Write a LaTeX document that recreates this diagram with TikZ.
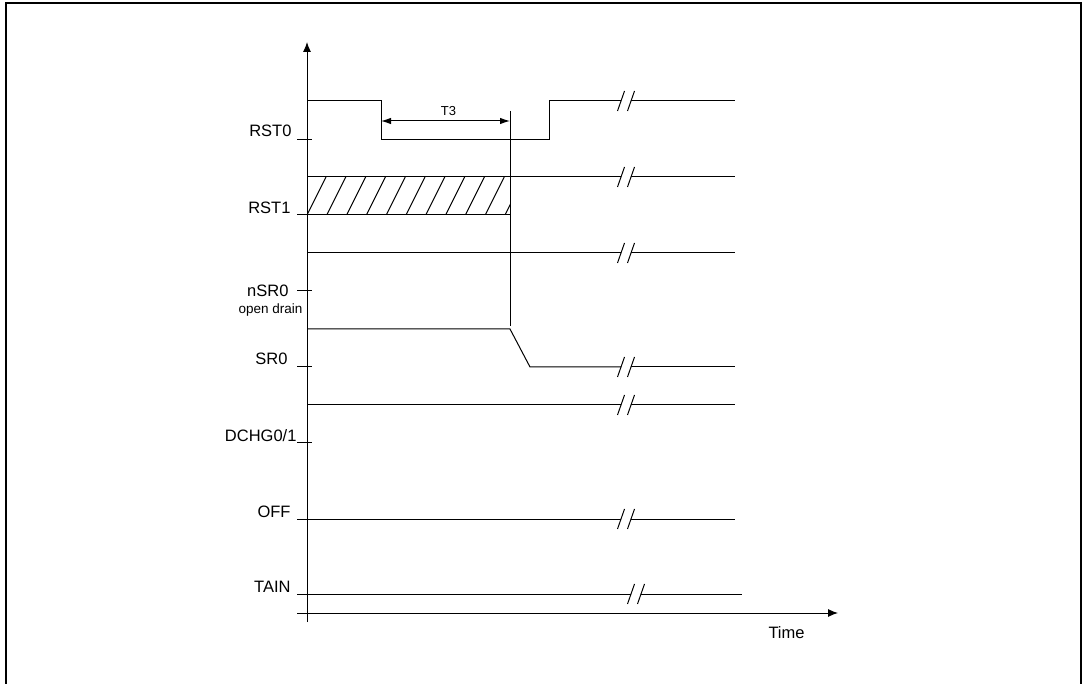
\documentclass[tikz,border=0pt]{standalone}
\usepackage{fontspec}
\setmainfont{Liberation Sans}
\usetikzlibrary{arrows.meta}
\begin{document}
\begin{tikzpicture}[x=1pt,y=-1pt,line width=1pt,
  lbl/.style={inner sep=0pt,anchor=base east,font=\fontsize{16.5}{18}\selectfont},
  small/.style={inner sep=0pt,font=\fontsize{13.5}{15}\selectfont},
  axis/.style={-{Latex[length=10pt,width=8pt]}},
  dim/.style={{Latex[length=10pt,width=6.5pt]}-{Latex[length=10pt,width=6.5pt]}},
  tick/.style={line width=1pt},
  brk/.style={line width=1pt}]
\useasboundingbox (0,0) rectangle (1082,684);
% frame
\draw[line width=2pt] (6,684) -- (6,3) -- (1081,3) -- (1081,684);
% break symbol macro
\newcommand{\brkmark}[2]{%
  \draw[brk] (#1-9.5,#2+10) -- (#1-2.5,#2-10);
  \draw[brk] (#1+0.5,#2+10) -- (#1+7.5,#2-10);}
% axes
\coordinate (yb) at (307,622); \coordinate (yt) at (307,42);
\draw[axis] (yb) -- (yt);
\coordinate (xl) at (297,613); \coordinate (xr) at (838,613);
\draw[axis] (xl) -- (xr);
\node[inner sep=0pt,anchor=base west,font=\fontsize{16.5}{18}\selectfont] (time) at (768,638) {Time};
% labels
\node[lbl] (lrst0) at (292,137) {RST0};
\node[lbl] (lrst1) at (291,214) {RST1};
\node[lbl] (lnsr0) at (289,297) {nSR0};
\node[small,anchor=base east] (lod) at (303,314) {open drain};
\node[lbl] (lsr0) at (288,365) {SR0};
\node[lbl] (ldchg) at (297,442) {DCHG0/1};
\node[lbl] (loff) at (291,517) {OFF};
\node[lbl] (ltain) at (291,592) {TAIN};
% ticks
\foreach \yy in {140,215,291,367,443} \draw[tick] (297,\yy) -- (312,\yy);
% RST0
\draw (307,101) -- (381,101) -- (381,140) -- (549,140) -- (549,101) -- (621,101);
\draw (631,101) -- (735,101);
\brkmark{627}{101}
% T3 dimension
\coordinate (t3a) at (381,121); \coordinate (t3b) at (510,121);
\draw[dim] (t3a) -- (t3b);
\node[small,anchor=base,font=\fontsize{13}{15}\selectfont] (t3) at (448.5,116) {T3};
% RST1
\begin{scope}
\clip (307,177) rectangle (510,215);
\foreach \k in {0,...,11} \draw (307+19.8*\k,215) -- ++(19,-38);
\end{scope}
\draw (307,177) rectangle (510,215);
\draw (510,177) -- (621,177);
\draw (631,177) -- (735,177);
\brkmark{627}{177}
% nSR0
\draw (307,253) -- (621,253);
\draw (631,253) -- (735,253);
\brkmark{627}{253}
% marker
\coordinate (ma) at (510,111); \coordinate (mb) at (510,326);
\draw (ma) -- (mb);
% SR0
\draw (307,329) -- (510,329) -- (530,367) -- (621,367);
\draw (631,367) -- (735,367);
\brkmark{627}{367}
% DCHG
\draw (307,405) -- (621,405);
\draw (631,405) -- (735,405);
\brkmark{627}{405}
% OFF
\draw (297,519) -- (621,519);
\draw (631,519) -- (735,519);
\brkmark{627}{519}
% TAIN
\draw (297,594) -- (631,594);
\draw (641,594) -- (742,594);
\brkmark{637}{594}
\end{tikzpicture}
\end{document}
